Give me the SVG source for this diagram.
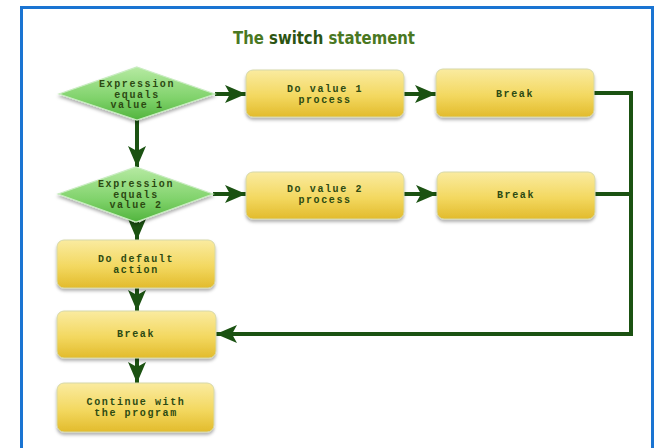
<svg xmlns="http://www.w3.org/2000/svg" width="656" height="448" viewBox="0 0 656 448">
<defs>
<linearGradient id="gGold" x1="0" y1="0" x2="0" y2="1">
<stop offset="0" stop-color="#faeba0"/>
<stop offset="0.55" stop-color="#f3d860"/>
<stop offset="1" stop-color="#e2bb2c"/>
</linearGradient>
<linearGradient id="gGreen" x1="0" y1="0" x2="0" y2="1">
<stop offset="0" stop-color="#b6eaa2"/>
<stop offset="0.6" stop-color="#7fd26a"/>
<stop offset="1" stop-color="#52b43e"/>
</linearGradient>
<filter id="sh" x="-10%" y="-10%" width="120%" height="140%">
<feDropShadow dx="0" dy="2.5" stdDeviation="1.5" flood-color="#000" flood-opacity="0.3"/>
</filter>
<marker id="ah" markerUnits="userSpaceOnUse" markerWidth="24" markerHeight="20" refX="21" refY="9" orient="auto">
<path d="M0,0 L21,9 L0,18 L5,9 z" fill="#1b5212"/>
</marker>
</defs>
<style>
.box{fill:url(#gGold);stroke:#d6d8a8;stroke-width:1;filter:url(#sh)}
.dia{fill:url(#gGreen);stroke:#c8ecc0;stroke-width:1.2;filter:url(#sh)}
.t{font-family:"Liberation Mono","DejaVu Sans Mono",monospace;font-weight:bold;font-size:10px;letter-spacing:1.6px;fill:#2c4a12;text-anchor:middle}
.c{fill:none;stroke:#1b5212;stroke-width:4}
.ca{fill:none;stroke:#1b5212;stroke-width:4;marker-end:url(#ah)}
</style>
<rect x="0" y="0" width="656" height="448" fill="#ffffff"/>
<rect x="21.5" y="7.5" width="631" height="460" fill="none" stroke="#1a74d2" stroke-width="3"/>
<text x="324" y="44" font-family="'DejaVu Sans Condensed','DejaVu Sans',sans-serif" font-stretch="condensed" font-weight="bold" font-size="17" textLength="182" lengthAdjust="spacingAndGlyphs" text-anchor="middle" fill="#4a7822">The <tspan fill="#2c5412">switch</tspan> statement</text>

<g id="connectors">
<line class="ca" x1="215" y1="94" x2="246" y2="94"/>
<line class="ca" x1="404" y1="94" x2="436" y2="94"/>
<line class="ca" x1="137" y1="120" x2="137" y2="167"/>
<line class="ca" x1="213" y1="194" x2="246" y2="194"/>
<line class="ca" x1="404" y1="194" x2="437" y2="194"/>
<line class="ca" x1="137" y1="222" x2="137" y2="240"/>
<line class="ca" x1="137" y1="288" x2="137" y2="311"/>
<line class="ca" x1="137" y1="358" x2="137" y2="383"/>
<polyline class="c" points="594,93 631,93"/>
<polyline class="c" points="595,194 631,194"/>
<polyline class="ca" points="631,91 631,334 216,334"/>
</g>

<g id="d1">
<polygon class="dia" points="137,67 215,94 137,120 59,94"/>
<text class="t" x="137" y="87">Expression</text>
<text class="t" x="137" y="97.5">equals</text>
<text class="t" x="137" y="108">value 1</text>
</g>
<g id="p1">
<rect class="box" x="246" y="70" width="158" height="47" rx="7"/>
<text class="t" x="325" y="92">Do value 1</text>
<text class="t" x="325" y="103">process</text>
</g>
<g id="b1">
<rect class="box" x="436" y="69" width="158" height="48" rx="7"/>
<text class="t" x="515" y="97">Break</text>
</g>
<g id="d2">
<polygon class="dia" points="136,167 213,194 136,222 58,194"/>
<text class="t" x="136" y="187">Expression</text>
<text class="t" x="136" y="197.5">equals</text>
<text class="t" x="136" y="208">value 2</text>
</g>
<g id="p2">
<rect class="box" x="246" y="172" width="158" height="47" rx="7"/>
<text class="t" x="325" y="192">Do value 2</text>
<text class="t" x="325" y="203">process</text>
</g>
<g id="b2">
<rect class="box" x="437" y="172" width="158" height="47" rx="7"/>
<text class="t" x="516" y="198">Break</text>
</g>
<g id="def">
<rect class="box" x="57" y="240" width="158" height="48" rx="7"/>
<text class="t" x="136" y="262">Do default</text>
<text class="t" x="136" y="273">action</text>
</g>
<g id="b3">
<rect class="box" x="57" y="311" width="159" height="47" rx="7"/>
<text class="t" x="136" y="337">Break</text>
</g>
<g id="cont">
<rect class="box" x="57" y="383" width="157" height="49" rx="7"/>
<text class="t" x="136" y="405">Continue with</text>
<text class="t" x="136" y="416">the program</text>
</g>
</svg>
